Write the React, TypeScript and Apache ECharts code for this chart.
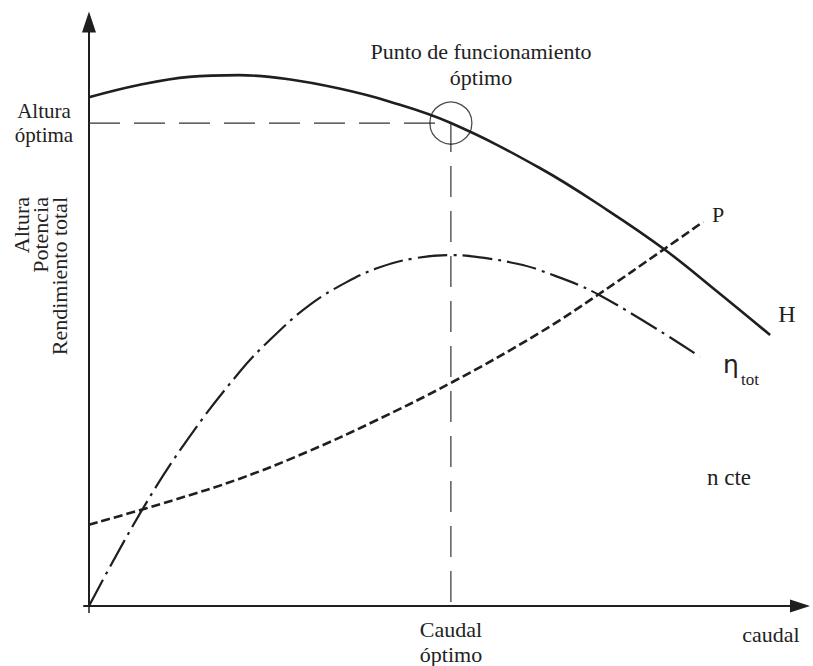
import React, { useEffect, useRef } from "react";
import * as echarts from "echarts";

// Altura (H) curve
const hX = [0, 7.0, 14.1, 21.1, 28.1, 35.2, 42.2, 50.9, 63.4, 72.9, 81.0, 88.3, 95.8];
const hY = [87.1, 89.2, 90.6, 90.9, 90.2, 88.6, 86.4, 82.7, 75.0, 67.8, 61.0, 53.9, 46.4];

// Potencia (P) curve
const pX = [0, 11.8, 21.2, 30.7, 39.9, 51.2, 63.4, 71.6, 81.0, 86.4];
const pY = [13.9, 18.1, 21.8, 26.4, 31.5, 38.4, 46.8, 53.3, 61.2, 65.8];

// Rendimiento total (eta) curve
const eX = [0, 7.2, 13.8, 21.2, 25.9, 31.1, 36.3, 40.9, 45.6, 50.9, 55.6, 60.2, 63.4, 71.7, 85.9];
const eY = [0, 15.9, 28.4, 40.1, 46.1, 51.6, 55.5, 58.0, 59.5, 60.1, 59.6, 58.6, 57.5, 53.3, 42.7];

// Optimum operating point
const optimoX = 50.9;
const optimoY = 82.7;

const ink = "#1f1f1f";
const serif = "Liberation Serif";

function txt(text: string, x: number, y: number, opts: any = {}) {
  const fontSize = opts.fontSize ?? 22;
  const fontFamily = opts.fontFamily ?? serif;
  const align = opts.align ?? "center";
  return {
    type: "text",
    x,
    y,
    rotation: opts.rotation ?? 0,
    silent: true,
    z: 100,
    style: {
      text,
      fontSize,
      fontFamily,
      fill: opts.fill ?? "#222222",
      align,
      textAlign: align,
      verticalAlign: "middle",
      textVerticalAlign: "middle",
      lineHeight: opts.lineHeight ?? fontSize,
    },
  };
}

export default function App() {
  const ref = useRef<HTMLDivElement>(null);
  useEffect(() => {
    const chart = echarts.init(ref.current!, null, { renderer: "svg" });
    const zip = (xs: number[], ys: number[]) => xs.map((x, i) => [x, ys[i]]);
    chart.setOption({
      animation: false,
      backgroundColor: "#ffffff",
      grid: { left: 84, right: 13, top: 22, bottom: 60, containLabel: false },
      xAxis: {
        type: "value",
        min: -0.7,
        max: 100,
        axisLine: {
          show: true,
          onZero: true,
          symbol: ["none", "triangle"],
          symbolSize: [13, 20],
          lineStyle: { color: ink, width: 2 },
        },
        axisTick: { show: true, customValues: [0], length: 7, lineStyle: { color: ink, width: 1.5 } },
        axisLabel: { show: false },
        splitLine: { show: false },
      },
      yAxis: {
        type: "value",
        min: 0,
        max: 100,
        axisLine: {
          show: true,
          onZero: true,
          symbol: ["none", "triangle"],
          symbolSize: [14, 21],
          lineStyle: { color: ink, width: 2 },
        },
        axisTick: { show: false },
        axisLabel: { show: false },
        splitLine: { show: false },
      },
      series: [
        {
          name: "referencia",
          type: "line",
          data: [
            [0, optimoY],
            [optimoX, optimoY],
            [optimoX, 0],
          ],
          showSymbol: false,
          silent: true,
          lineStyle: { color: "#333", width: 1.2, type: [31, 14] },
          z: 1,
        },
        {
          name: "H",
          type: "line",
          data: zip(hX, hY),
          smooth: 0.4,
          showSymbol: false,
          silent: true,
          lineStyle: { color: ink, width: 2.6, type: "solid" },
          z: 3,
        },
        {
          name: "P",
          type: "line",
          data: zip(pX, pY),
          smooth: 0.4,
          showSymbol: false,
          silent: true,
          lineStyle: { color: ink, width: 2.6, type: [9, 4] },
          z: 3,
        },
        {
          name: "ηtot",
          type: "line",
          data: zip(eX, eY),
          smooth: 0.4,
          showSymbol: false,
          silent: true,
          lineStyle: { color: ink, width: 2.2, type: [30, 6, 3, 6] },
          z: 3,
        },
        {
          name: "Punto óptimo",
          type: "scatter",
          data: [[optimoX, optimoY]],
          symbol: "circle",
          symbolSize: 42,
          silent: true,
          itemStyle: { color: "rgba(0,0,0,0)", borderColor: ink, borderWidth: 1.3 },
          z: 4,
        },
      ],
      graphic: [
        txt("Punto de funcionamiento\nóptimo", 481, 64.5, { lineHeight: 26 }),
        txt("Altura\nóptima", 44, 123, { fontSize: 21, lineHeight: 23.5 }),
        txt("Altura\nPotencia\nRendimiento total", 40, 197, {
          rotation: Math.PI / 2,
          align: "right",
          lineHeight: 19,
        }),
        txt("Caudal\nóptimo", 451, 642, { lineHeight: 25 }),
        txt("caudal", 771, 634.5),
        txt("n cte", 729, 477.5, { fontSize: 23 }),
        txt("H", 787, 314, { fontSize: 24 }),
        txt("P", 718, 214.5),
        txt("η", 731, 364.5, { fontSize: 25, fontFamily: "DejaVu Sans" }),
        txt("tot", 750, 379, { fontSize: 17 }),
      ],
    });
    return () => chart.dispose();
  }, []);
  return (
    <div
      ref={ref}
      style={{ position: "absolute", left: 0, top: 0, width: 813, height: 666 }}
    />
  );
}
